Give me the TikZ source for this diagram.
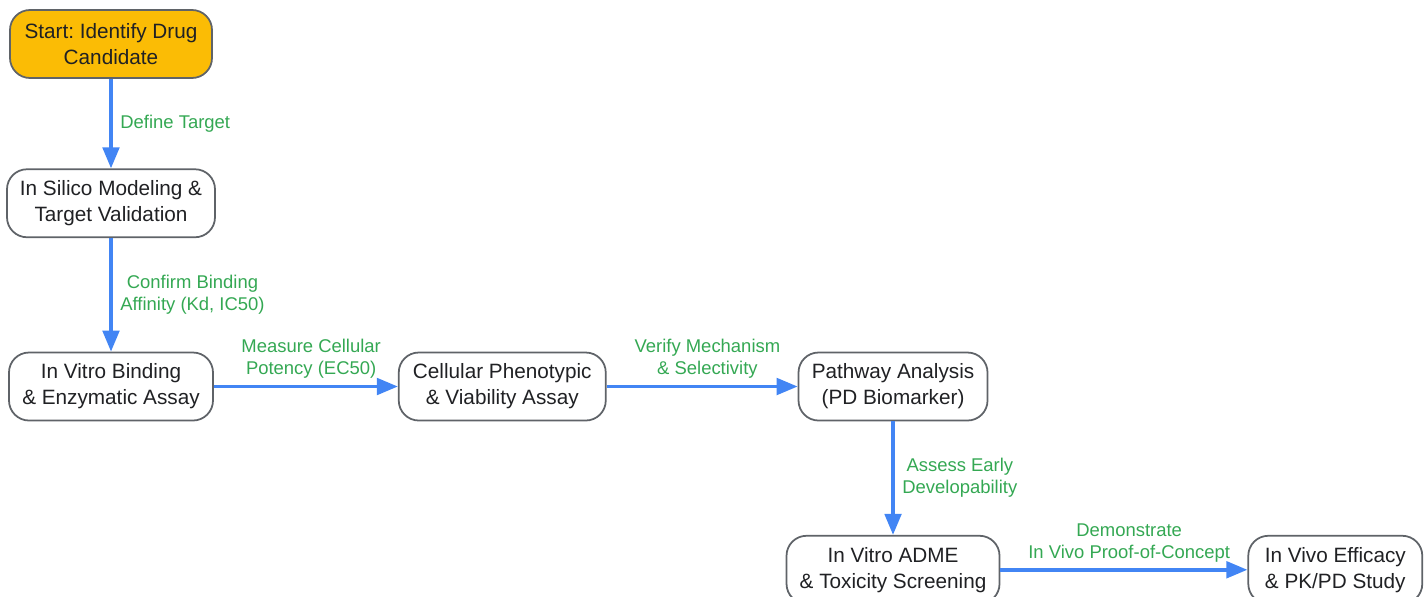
\documentclass[tikz,border=0pt]{standalone}
\usepackage{fontspec}
\setmainfont{Liberation Sans}
\usetikzlibrary{positioning, arrows.meta}
\frenchspacing

\definecolor{startfill}{HTML}{FBBC05}
\definecolor{flowblue}{HTML}{4285F4}
\definecolor{labelgreen}{HTML}{34A853}
\definecolor{boxline}{HTML}{5F6368}
\definecolor{boxtext}{HTML}{202124}

\begin{document}
\begin{tikzpicture}[>=Stealth, every node/.style={font=\fontsize{11.8}{14.7}\selectfont},
  stepbox/.style={draw=boxline, line width=1pt, rounded corners=0.4cm, fill=white, text=boxtext, minimum height=1.36cm, align=center},
  flow/.style={draw=flowblue, line width=2pt, -{Triangle[length=0.42cm, width=0.33cm]}},
  edgelabel/.style={text=labelgreen, font=\fontsize{10.5}{12.5}\selectfont, align=center}]

\useasboundingbox (0,0) rectangle (28.56,-11.92);

% First column
\node (start) [stepbox, fill=startfill, minimum width=4.04cm] at (2.22,-0.88) {Start: Identify Drug\\Candidate};
\node (silico) [stepbox, minimum width=4.16cm, below=1.79cm of start] {In Silico Modeling \&\\Target Validation};
\node (binding) [stepbox, minimum width=4.08cm, below=2.27cm of silico] {In Vitro Binding\\\& Enzymatic Assay};

% Middle row
\node (cellular) [stepbox, minimum width=4.14cm, right=3.68cm of binding] {Cellular Phenotypic\\\& Viability Assay};
\node (pathway) [stepbox, minimum width=3.78cm, right=3.82cm of cellular] {Pathway Analysis\\(PD Biomarker)};

% Bottom row
\node (adme) [stepbox, minimum width=4.26cm, below=2.27cm of pathway] {In Vitro ADME\\\& Toxicity Screening};
\node (invivo) [stepbox, minimum width=3.48cm, right=4.94cm of adme] {In Vivo Efficacy\\\& PK/PD Study};

% Arrows
\draw[flow] (start) -- node[edgelabel, right, xshift=1pt] {Define Target} (silico);
\draw[flow] (silico) -- node[edgelabel, right, xshift=1pt] {Confirm Binding\\Affinity (Kd, IC50)} (binding);
\draw[flow] (binding) -- node[edgelabel, above, inner sep=3.5pt, xshift=3pt] {Measure Cellular\\Potency (EC50)} (cellular);
\draw[flow] (cellular) -- node[edgelabel, above, inner sep=3.5pt, xshift=3pt] {Verify Mechanism\\\& Selectivity} (pathway);
\draw[flow] (pathway) -- node[edgelabel, right, xshift=1pt] {Assess Early\\Developability} (adme);
\draw[flow] (adme) -- node[edgelabel, above, inner sep=3.5pt, xshift=3pt] {Demonstrate\\In Vivo Proof-of-Concept} (invivo);

\end{tikzpicture}
\end{document}
